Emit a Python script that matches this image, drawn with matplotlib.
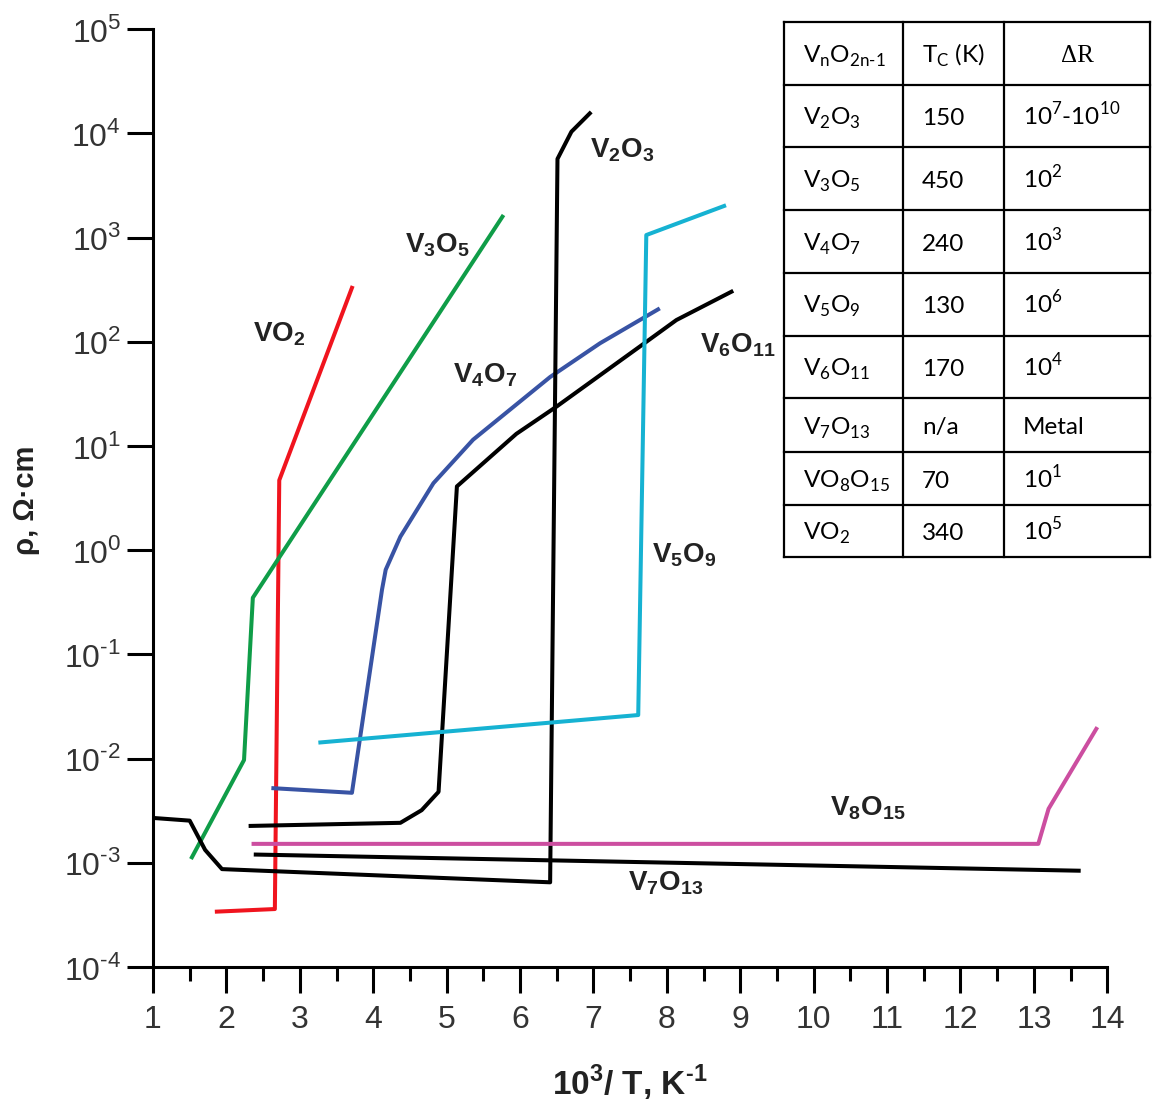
import matplotlib
matplotlib.use("Agg")
import matplotlib.pyplot as plt
import numpy as np
from matplotlib.ticker import FixedLocator, MultipleLocator, NullLocator, FuncFormatter

plt.rcParams['font.family'] = ['Liberation Sans', 'DejaVu Sans']

HY = '\u2010'  # short hyphen used for negative exponents

# ---- resistivity curves: x = 1000/T (1/K), y = rho (Ohm*cm) ----
vo2_x = [1.87, 2.66, 2.72, 3.71]
vo2_y = [3.4e-4, 3.6e-4, 4.7, 330]

v3o5_x = [1.53, 2.24, 2.36, 5.76]
v3o5_y = [1.13e-3, 9.7e-3, 0.35, 1590]

v4o7_x = [2.64, 3.71, 4.12, 4.17, 4.37, 4.82, 5.36, 6.41, 7.09, 7.88]
v4o7_y = [5.2e-3, 4.7e-3, 0.42, 0.65, 1.35, 4.4, 11.5, 46, 97, 205]

v6o11_x = [2.33, 4.37, 4.66, 4.89, 5.14, 5.95, 6.50, 7.63, 8.13, 8.88]
v6o11_y = [2.26e-3, 2.42e-3, 3.2e-3, 4.8e-3, 4.1, 13.1, 24, 90, 162, 303]

v2o3_x = [1.05, 1.50, 1.71, 1.94, 6.41, 6.51, 6.70, 6.95]
v2o3_y = [2.68e-3, 2.54e-3, 1.33e-3, 8.7e-4, 6.5e-4, 5700, 1.04e4, 1.56e4]

v7o13_x = [2.40, 13.61]
v7o13_y = [1.20e-3, 8.4e-4]

v8o15_x = [2.37, 13.06, 13.20, 13.85]
v8o15_y = [1.52e-3, 1.52e-3, 3.3e-3, 0.0193]

v5o9_x = [3.28, 7.61, 7.72, 8.78]
v5o9_y = [0.0143, 0.0262, 1060, 2015]

x_ticks = list(range(1, 15))
y_decades = [-4, -3, -2, -1, 0, 1, 2, 3, 4, 5]

# ---- summary table ----
tab_header = [r'V$_\mathdefault{n}$O$_\mathdefault{2n' + HY + '1}$', r'T$_\mathdefault{C}$ (K)', 'ΔR']
tab_phase = [r'V$_\mathdefault{2}$O$_\mathdefault{3}$', r'V$_\mathdefault{3}$O$_\mathdefault{5}$',
             r'V$_\mathdefault{4}$O$_\mathdefault{7}$', r'V$_\mathdefault{5}$O$_\mathdefault{9}$',
             r'V$_\mathdefault{6}$O$_\mathdefault{11}$', r'V$_\mathdefault{7}$O$_\mathdefault{13}$',
             r'VO$_\mathdefault{8}$O$_\mathdefault{15}$', r'VO$_\mathdefault{2}$']
tab_tc = ['150', '450', '240', '130', '170', 'n/a', '70', '340']
tab_dr = [r'10$^\mathdefault{7}$-10$^\mathdefault{10}$', r'10$^\mathdefault{2}$', r'10$^\mathdefault{3}$',
          r'10$^\mathdefault{6}$', r'10$^\mathdefault{4}$', 'Metal', r'10$^\mathdefault{1}$',
          r'10$^\mathdefault{5}$']

W, H = 1156, 1106
fig = plt.figure(figsize=(W / 100, H / 100), dpi=100)
ax = fig.add_axes([153 / W, 1 - 967 / H, (1107.3 - 153) / W, (967 - 29.3) / H])

lw = 2.9
ax.plot(vo2_x, vo2_y, color='#f0141e', lw=lw)
ax.plot(v3o5_x, v3o5_y, color='#0f9d48', lw=lw)
ax.plot(v4o7_x, v4o7_y, color='#3853a4', lw=lw)
ax.plot(v6o11_x, v6o11_y, color='black', lw=lw)
ax.plot(v2o3_x, v2o3_y, color='black', lw=lw)
ax.plot(v7o13_x, v7o13_y, color='black', lw=lw)
ax.plot(v8o15_x, v8o15_y, color='#cc4ea0', lw=lw)
ax.plot(v5o9_x, v5o9_y, color='#16b2d2', lw=lw)

ax.set_yscale('log')
ax.set_xlim(1, 14)
ax.set_ylim(1e-4, 1e5)
ax.xaxis.set_major_locator(FixedLocator(x_ticks))
ax.xaxis.set_minor_locator(MultipleLocator(0.5))
ax.yaxis.set_major_locator(FixedLocator([10.0 ** d for d in y_decades]))
ax.yaxis.set_minor_locator(NullLocator())


def pow10(v, pos):
    e = int(round(np.log10(v)))
    s = str(e).replace('-', HY)
    return r'10$^\mathdefault{' + s + '}$'


ax.yaxis.set_major_formatter(FuncFormatter(pow10))

for s in ('top', 'right'):
    ax.spines[s].set_visible(False)
for s in ('left', 'bottom'):
    ax.spines[s].set_linewidth(2.2)
ax.tick_params(which='major', length=19, width=2.2, direction='out',
               labelsize=23, labelcolor='#333333')
ax.tick_params(axis='x', which='major', pad=8)
ax.tick_params(axis='y', which='major', pad=4)
ax.tick_params(which='minor', length=10, width=2.2, direction='out')

# curve labels
lab_kw = dict(fontsize=20, fontweight='bold', color='#222222', ha='left', va='baseline')
ax.text(2.36, 102, r'VO$_\mathdefault{2}$', **lab_kw)
ax.text(4.43, 730, r'V$_\mathdefault{3}$O$_\mathdefault{5}$', **lab_kw)
ax.text(6.95, 5950, r'V$_\mathdefault{2}$O$_\mathdefault{3}$', **lab_kw)
ax.text(5.09, 41, r'V$_\mathdefault{4}$O$_\mathdefault{7}$', **lab_kw)
ax.text(8.45, 80, r'V$_\mathdefault{6}$O$_\mathdefault{11}$', **lab_kw)
ax.text(7.80, 0.77, r'V$_\mathdefault{5}$O$_\mathdefault{9}$', **lab_kw)
ax.text(10.22, 2.88e-3, r'V$_\mathdefault{8}$O$_\mathdefault{15}$', **lab_kw)
ax.text(7.47, 5.5e-4, r'V$_\mathdefault{7}$O$_\mathdefault{13}$', **lab_kw)

fig.text(630 / W, 1 - 1083 / H, r'10$^\mathdefault{3}$/ T, K$^\mathdefault{' + HY + '1}$',
         fontsize=24, fontweight='bold', color='#222222', ha='center', va='center')
fig.text(26 / W, 1 - 500 / H, 'ρ, Ω·cm', rotation=90, fontsize=21,
         fontweight='bold', color='#222222', ha='center', va='center')

# table drawn in pixel space on an overlay
tab = fig.add_axes([0, 0, 1, 1], zorder=5)
tab.set_xlim(0, W)
tab.set_ylim(H, 0)
tab.axis('off')
cols = [784, 903, 1004, 1150]
rows = [22, 84.7, 146.8, 210.2, 272.9, 335.6, 398.4, 452.4, 504.6, 557]
tab.fill_between([cols[0], cols[-1]], rows[0], rows[-1], color='white', zorder=1)
for r in rows:
    tab.plot([cols[0], cols[-1]], [r, r], color='black', lw=1.6, zorder=2,
             solid_capstyle='projecting')
for c in cols:
    tab.plot([c, c], [rows[0], rows[-1]], color='black', lw=1.6, zorder=2,
             solid_capstyle='projecting')

tfont = dict(fontsize=17.5, color='black', family=['Lato', 'DejaVu Sans'], va='baseline', zorder=3)
pad = 19
for j, txt in enumerate(tab_header):
    yb = (rows[0] + rows[1]) / 2 + 9
    if j == 2:
        tab.text((cols[2] + cols[3]) / 2, yb, txt, ha='center', fontsize=18,
                 family=['Liberation Serif', 'DejaVu Serif'], va='baseline', zorder=3)
    else:
        tab.text(cols[j] + pad, yb, txt, ha='left', **tfont)
for i in range(len(tab_phase)):
    yb = (rows[i + 1] + rows[i + 2]) / 2 + 9
    tab.text(cols[0] + pad, yb, tab_phase[i], ha='left', **tfont)
    tab.text(cols[1] + pad, yb, tab_tc[i], ha='left', **tfont)
    tab.text(cols[2] + pad, yb, tab_dr[i], ha='left', **tfont)

fig.savefig('out.png', dpi=100)
